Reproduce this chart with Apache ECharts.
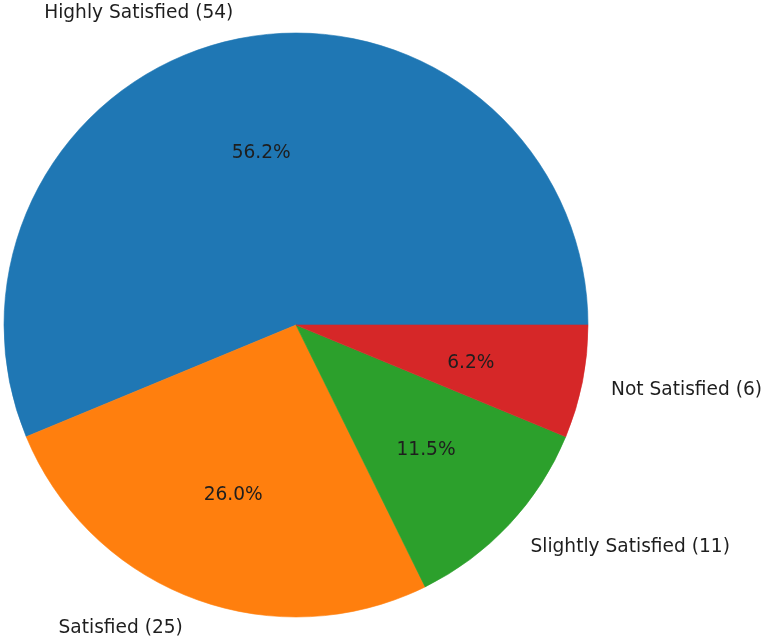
<!DOCTYPE html>
<html>
<head>
<meta charset="utf-8">
<script src="https://cdn.jsdelivr.net/npm/echarts@6/dist/echarts.min.js"></script>
<style>html,body{margin:0;padding:0;background:#fff;}#c{width:762px;height:636px;}</style>
</head>
<body>
<div id="c"></div>
<script>
const categories = ['Highly Satisfied', 'Satisfied', 'Slightly Satisfied', 'Not Satisfied'];
const values = [54, 25, 11, 6];
const colors = ['#1f77b4', '#ff7f0e', '#2ca02c', '#d62728'];

const total = values.reduce((a, b) => a + b, 0);
const R = 292;
const center = [296, 325];
const font = { fontFamily: 'DejaVu Sans', fontSize: 18.6, color: '#1e1e1e' };

// Python-style '%1.1f' (round half to even)
function pct(v) {
  const s = v / total * 1000;
  const f = Math.floor(s);
  let r;
  if (Math.abs(s - f - 0.5) < 1e-9) r = (f % 2 === 0) ? f : f + 1;
  else r = Math.round(s);
  return (r / 10).toFixed(1) + '%';
}

const data = categories.map((c, i) => ({
  name: c, value: values[i],
  itemStyle: { color: colors[i], borderColor: colors[i], borderWidth: 0.6 }
}));

const chart = echarts.init(document.getElementById('c'), null, { renderer: 'canvas' });
chart.setOption({
  animation: false,
  series: [
    {
      type: 'pie',
      center: center,
      radius: [0, R],
      startAngle: 0,
      clockwise: false,
      avoidLabelOverlap: false,
      silent: true,
      data: data,
      label: Object.assign({
        show: true,
        position: 'outside',
        distanceToLabelLine: 0,
        offset: [0, 3],
        formatter: p => p.name + ' (' + p.value + ')'
      }, font),
      labelLine: { show: false, length: R * 0.1, length2: 0 },
      emphasis: { disabled: true }
    },
    {
      type: 'pie',
      center: center,
      radius: [R * 0.2, R],
      startAngle: 0,
      clockwise: false,
      avoidLabelOverlap: false,
      silent: true,
      data: categories.map((c, i) => ({ name: c, value: values[i], itemStyle: { color: 'rgba(0,0,0,0)' } })),
      label: Object.assign({
        show: true,
        position: 'inside',
        offset: [0, 3],
        formatter: p => pct(p.value)
      }, font),
      labelLine: { show: false },
      emphasis: { disabled: true }
    }
  ]
});
</script>
</body>
</html>
